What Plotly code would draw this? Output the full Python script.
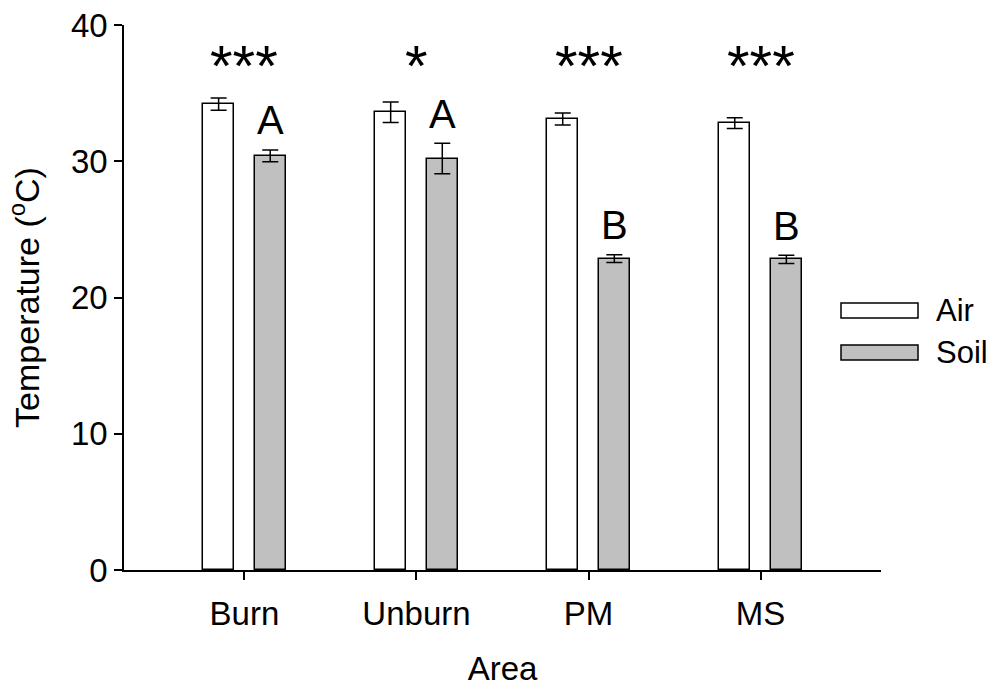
import plotly.graph_objects as go

categories = ["Burn", "Unburn", "PM", "MS"]
air_mean = [34.2, 33.6, 33.1, 32.8]
air_err = [0.45, 0.75, 0.44, 0.39]
soil_mean = [30.4, 30.2, 22.85, 22.8]
soil_err = [0.43, 1.12, 0.29, 0.31]
stars = ["***", "*", "***", "***"]
letters = ["A", "A", "B", "B"]
y_ticks = [0, 10, 20, 30, 40]

FONT = "Liberation Sans, Arial, sans-serif"
W, H = 997, 689
ML, MR, MT, MB = 124, 116, 25, 119
PW, PH = W - ML - MR, H - MT - MB

idx = list(range(len(categories)))
off = 0.15
bw = 0.18

fig = go.Figure()
fig.add_trace(go.Bar(
    x=[i - off for i in idx], y=air_mean, width=bw, name="Air",
    marker=dict(color="white", line=dict(color="black", width=1.5)),
    error_y=dict(type="data", array=air_err, color="black", thickness=1.5, width=8),
    showlegend=False,
))
fig.add_trace(go.Bar(
    x=[i + off for i in idx], y=soil_mean, width=bw, name="Soil",
    marker=dict(color="#c0c0c0", line=dict(color="black", width=1.5)),
    error_y=dict(type="data", array=soil_err, color="black", thickness=1.5, width=8),
    showlegend=False,
))

# significance stars above groups
for i, s in zip(idx, stars):
    fig.add_annotation(x=i, y=37.0, text=s, showarrow=False, xref="x", yref="y",
                       font=dict(family=FONT, size=58, color="black"), yanchor="middle")
# letters above soil bars
for i, (v, e, L) in enumerate(zip(soil_mean, soil_err, letters)):
    fig.add_annotation(x=i + off, y=v + e + 1.0, text=L, showarrow=False, xref="x", yref="y",
                       font=dict(family=FONT, size=40, color="black"), yanchor="bottom", yshift=-8)

# custom legend (wide swatches)
def px2paper(px, py):
    return (px - ML) / PW, (H - MB - py) / PH

legend_items = [("Air", "white", 303, 318), ("Soil", "#c0c0c0", 345, 360)]
for name, col, y0, y1 in legend_items:
    x0p, y0p = px2paper(841, y1)
    x1p, y1p = px2paper(918, y0)
    fig.add_shape(type="rect", xref="paper", yref="paper", x0=x0p, y0=y0p, x1=x1p, y1=y1p,
                  fillcolor=col, line=dict(color="black", width=1.5))
    tx, ty = px2paper(934, (y0 + y1) / 2)
    fig.add_annotation(x=tx, y=ty, xref="paper", yref="paper", text=name, showarrow=False,
                       xanchor="left", yanchor="middle",
                       font=dict(family=FONT, size=31, color="black"))

fig.update_layout(
    width=W, height=H,
    margin=dict(l=ML, r=MR, t=MT, b=MB, autoexpand=False),
    plot_bgcolor="white", paper_bgcolor="white",
    font=dict(family=FONT, size=33, color="black"),
    bargap=0,
)
fig.update_xaxes(
    range=[-0.7, 3.7], tickvals=idx, ticktext=categories,
    showline=True, linecolor="black", linewidth=1.5,
    ticks="outside", ticklen=8, tickwidth=1.5, tickcolor="black",
    showgrid=False, zeroline=False, ticklabelstandoff=6,
    title=dict(text="Area", font=dict(size=33), standoff=26),
    tickfont=dict(size=33),
)
fig.update_yaxes(
    range=[0, 40], tickvals=y_ticks,
    showline=True, linecolor="black", linewidth=1.5,
    ticks="outside", ticklen=8, tickwidth=1.5, tickcolor="black",
    showgrid=False, zeroline=False,
    title=dict(text="Temperature (<sup>o</sup>C)", font=dict(size=34), standoff=21),
    tickfont=dict(size=33),
)

fig.write_html("out.html")
